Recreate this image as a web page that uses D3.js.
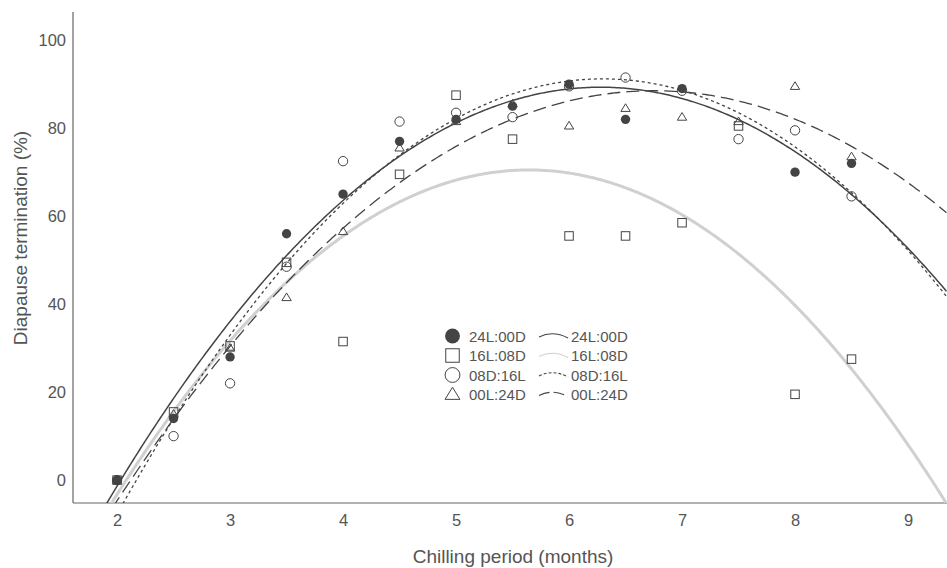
<!DOCTYPE html>
<html>
<head>
<meta charset="utf-8">
<script src="https://cdn.jsdelivr.net/npm/d3@7"></script>
<style>
  body { margin: 0; background: #fff; }
  svg { display: block; font-family: "Liberation Sans", Arial, sans-serif; }
</style>
</head>
<body>
<svg id="chart" width="947" height="568"></svg>
<script>
// chilling period (months)
var months = [2, 2.5, 3, 3.5, 4, 4.5, 5, 5.5, 6, 6.5, 7, 7.5, 8, 8.5];

// observed diapause termination (%), null = no point
var l24d00 = [0, 14, 28, 56, 65, 77, 82, 85, 90, 82, 89, null, 70, 72];
var l16d08 = [0, 15.5, 30.5, 49.5, 31.5, 69.5, 87.5, 77.5, 55.5, 55.5, 58.5, 80.5, 19.5, 27.5];
var d08l16 = [0, 10, 22, 48.5, 72.5, 81.5, 83.5, 82.5, 89.5, 91.5, 88.5, 77.5, 79.5, 64.5];
var l00d24 = [0, 15, 30, 41.5, 56.5, 75.5, 81.5, 85.5, 80.5, 84.5, 82.5, 81.5, 89.5, 73.5];

// fitted quadratic curves, vertex form y = a (x - h)^2 + k
var fitA = [-4.95, -5.55, -5.35, -4.13];
var fitH = [6.28, 5.645, 6.3, 6.75];
var fitK = [89.3, 70.5, 91.2, 88.5];

var seriesNames = ["24L:00D", "16L:08D", "08D:16L", "00L:24D"];
var xTicks = [2, 3, 4, 5, 6, 7, 8, 9];
var yTicks = [0, 20, 40, 60, 80, 100];

var svg = d3.select("#chart");
var dark = "#444";
var textCol = "#555";

var x = d3.scaleLinear().domain([1.61, 9.345]).range([73, 947]);
var y = d3.scaleLinear().domain([-5.2, 106.4]).range([503, 12]);

// axes lines
svg.append("line").attr("x1", 73).attr("x2", 947).attr("y1", 503).attr("y2", 503)
    .attr("stroke", "#666").attr("stroke-width", 1.2);
svg.append("line").attr("x1", 73).attr("x2", 73).attr("y1", 12).attr("y2", 503)
    .attr("stroke", "#666").attr("stroke-width", 1.2);

var xAxis = d3.axisBottom(x).tickValues(xTicks).tickSize(0).tickPadding(11).tickFormat(d3.format("d"));
var gx = svg.append("g").attr("transform", "translate(0,503)").call(xAxis);
var yAxis = d3.axisLeft(y).tickValues(yTicks).tickSize(0).tickPadding(7).tickFormat(d3.format("d"));
var gy = svg.append("g").attr("transform", "translate(73,0)").call(yAxis);
[gx, gy].forEach(function (g) {
    g.select(".domain").remove();
    g.selectAll("text").attr("fill", textCol).style("font-size", "16.5px")
        .style("font-family", "'Liberation Sans', Arial, sans-serif");
});

svg.append("text").attr("x", 513).attr("y", 563).attr("text-anchor", "middle")
    .attr("fill", textCol).style("font-size", "19px").text("Chilling period (months)");
svg.append("text").attr("transform", "translate(27,238) rotate(-90)").attr("text-anchor", "middle")
    .attr("fill", textCol).style("font-size", "19px").text("Diapause termination (%)");

// curves
var curveStyles = [
    { stroke: dark, width: 1.5, dash: null },
    { stroke: "#d0d0d0", width: 3, dash: null },
    { stroke: dark, width: 1.3, dash: "3,3" },
    { stroke: dark, width: 1.3, dash: "13,6" }
];
svg.append("clipPath").attr("id", "plotclip").append("rect")
    .attr("x", 73).attr("y", 12).attr("width", 874).attr("height", 491);
var xs = d3.range(1.6, 9.36, 0.02);
var line = d3.line().x(function (d) { return x(d[0]); }).y(function (d) { return y(d[1]); });
// grey first so the dark curves sit on top
[1, 0, 2, 3].forEach(function (i) {
    var pts = xs.map(function (v) { return [v, fitA[i] * (v - fitH[i]) * (v - fitH[i]) + fitK[i]]; });
    svg.append("path").attr("d", line(pts)).attr("clip-path", "url(#plotclip)")
        .attr("fill", "none").attr("stroke", curveStyles[i].stroke)
        .attr("stroke-width", curveStyles[i].width)
        .attr("stroke-dasharray", curveStyles[i].dash);
});

// markers
function drawMarker(g, type, cx, cy, s) {
    if (type === 0) {
        g.append("circle").attr("cx", cx).attr("cy", cy).attr("r", s * 0.55).attr("fill", dark);
    } else if (type === 1) {
        g.append("rect").attr("x", cx - s / 2).attr("y", cy - s / 2).attr("width", s).attr("height", s)
            .attr("fill", "none").attr("stroke", dark).attr("stroke-width", 1);
    } else if (type === 2) {
        g.append("circle").attr("cx", cx).attr("cy", cy).attr("r", s * 0.55).attr("fill", "none")
            .attr("stroke", dark).attr("stroke-width", 1);
    } else {
        var h = s * 0.9;
        g.append("path").attr("d", "M" + cx + "," + (cy - h * 0.6) + "L" + (cx + s * 0.55) + "," + (cy + h * 0.4)
            + "L" + (cx - s * 0.55) + "," + (cy + h * 0.4) + "Z")
            .attr("fill", "none").attr("stroke", dark).attr("stroke-width", 1);
    }
}
var allSeries = [l24d00, l16d08, d08l16, l00d24];
var pg = svg.append("g");
allSeries.forEach(function (vals, si) {
    vals.forEach(function (v, j) {
        if (v === null) return;
        drawMarker(pg, si, x(months[j]), y(v), 8.5);
    });
});

// legend
var lg = svg.append("g");
seriesNames.forEach(function (name, i) {
    var ly = 336 + i * 19.5;
    drawMarker(lg, i, 452.5, ly, 13.5);
    lg.append("text").attr("x", 469).attr("y", ly + 5.5).attr("fill", textCol)
        .style("font-size", "15px").text(name);
    lg.append("path").attr("d", "M539," + (ly + 1) + "Q553," + (ly - 6) + " 568," + (ly + 2))
        .attr("fill", "none").attr("stroke", i === 1 ? "#d0d0d0" : dark)
        .attr("stroke-width", 1.1)
        .attr("stroke-dasharray", i === 2 ? "3,2" : (i === 3 ? "11,4" : null));
    lg.append("text").attr("x", 571).attr("y", ly + 5.5).attr("fill", textCol)
        .style("font-size", "15px").text(name);
});
</script>
</body>
</html>
